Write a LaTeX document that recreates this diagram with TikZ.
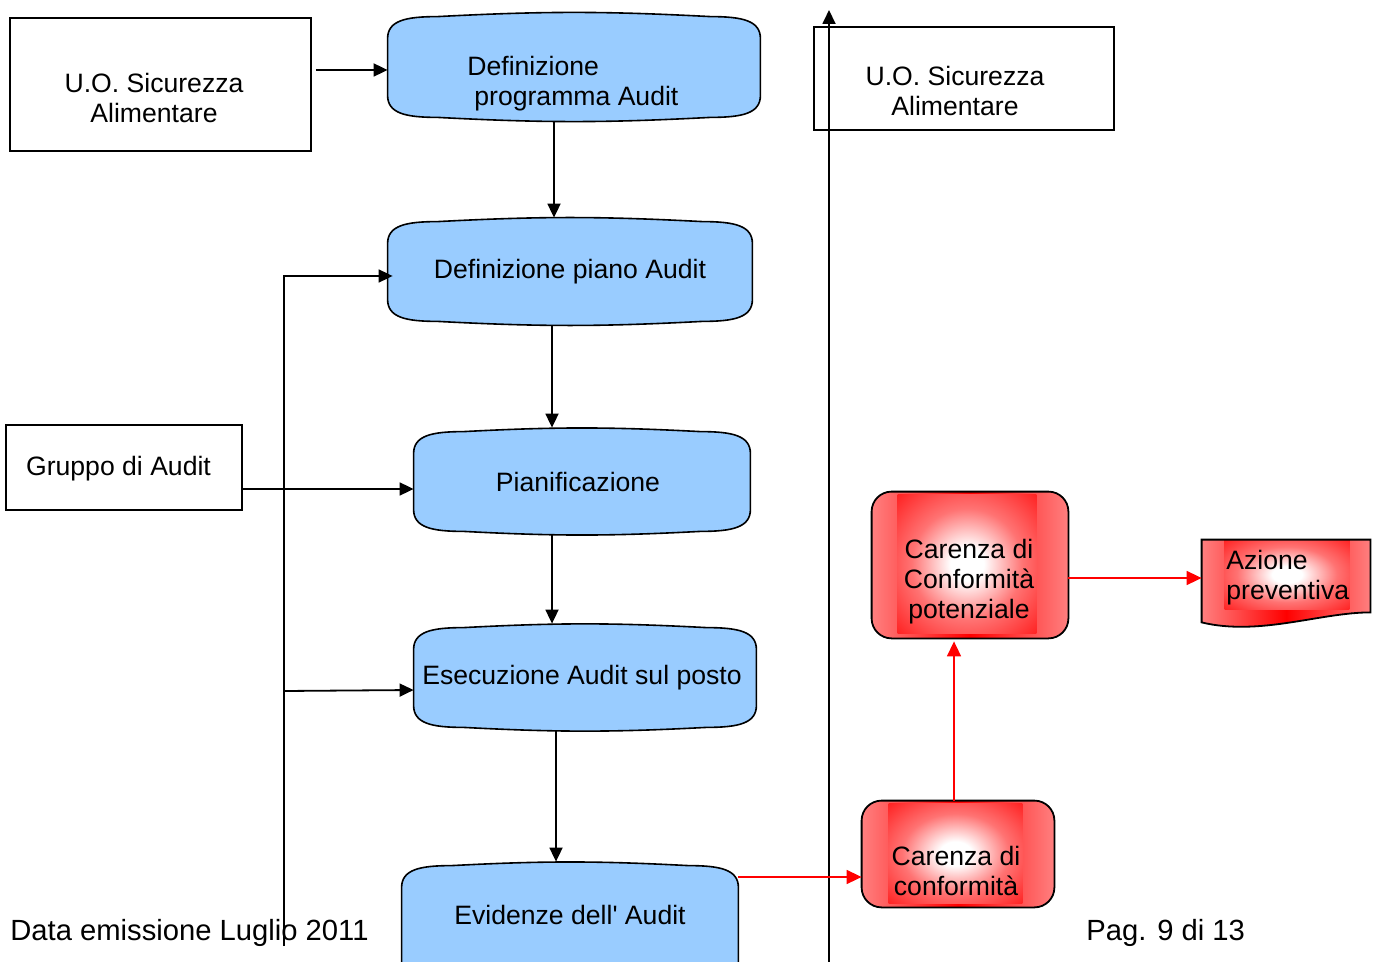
\documentclass[tikz,border=0pt]{standalone}
\usepackage{fontspec}
\setmainfont{Liberation Sans}
\usetikzlibrary{arrows.meta,backgrounds,calc}
\definecolor{boxblue}{HTML}{99CCFF}
\newcommand{\bodyfont}{\fontsize{13.3pt}{15pt}\selectfont}
\newcommand{\footfont}{\fontsize{14.6pt}{17pt}\selectfont}
\pgfdeclareradialshading{redglow}{\pgfpoint{0bp}{0bp}}{color(0bp)=(white); color(6bp)=(white); color(20bp)=(red!55!white); color(42bp)=(red); color(50bp)=(red)}
\begin{document}
\begin{tikzpicture}[x=0.5pt,y=-0.5pt,
  txt/.style={inner sep=0, align=center, font=\bodyfont},
  shp/.style={rectangle, inner sep=0, align=center, font=\bodyfont},
  plainbox/.style={shp, draw=black, line width=0.8pt},
  bluefill/.style={draw=black, line width=0.8pt, fill=boxblue},
  redouter/.style={left color=red!50, right color=red!50, middle color=red},
  redinner/.style={shading=redglow},
  arr/.style={line width=0.9pt, -{Triangle[length=7pt,width=6.5pt]}},
  rarr/.style={draw=red, line width=0.8pt, -{Triangle[length=7.5pt,width=7pt]}, red},
]
\useasboundingbox (0,0) rectangle (1380,962);
\clip (0,0) rectangle (1380,962);

% ---- plain boxes
\node[plainbox, minimum width=150.5pt, minimum height=66.5pt] (uo1) at (160.5,84.5) {};
\node[txt] (uo1t) at (154,98) {U.O. Sicurezza\\Alimentare};
\node[plainbox, minimum width=118pt, minimum height=42.5pt] (gruppo) at (124,467.5) {};
\node[txt] (gruppot) at (118.5,469) {Gruppo di Audit};
\node[plainbox, minimum width=150pt, minimum height=51.5pt] (uo2) at (964,78.5) {};
\node[txt] (uo2t) at (955,91) {U.O. Sicurezza\\Alimentare};

% ---- blue process boxes
\node[shp, minimum width=186pt, minimum height=54pt] (b1) at (574,67) {};
\node[txt, align=left, anchor=west] (b1t) at (467,84) {Definizione\\\hspace*{3.5pt}programma Audit};
\node[shp, minimum width=182pt, minimum height=53.5pt] (b2) at (570,271.5) {Definizione piano Audit};
\node[shp, minimum width=168pt, minimum height=53.5pt] (b3) at (582,481.5) {\hspace*{-4pt}Pianificazione};
\node[shp, minimum width=171pt, minimum height=53.5pt] (b4) at (585,677.5) {\hspace*{-3pt}Esecuzione Audit sul posto};
\node[shp, minimum width=168pt, minimum height=53pt] (b5) at (570,915) {Evidenze dell\textquotesingle{} Audit};

% ---- red boxes
\node[shp, minimum width=98pt, minimum height=73pt] (red1) at (970,565) {};
\node[txt] (red1t) at (969,582) {Carenza di\\Conformit\`a\\potenziale};
\node[shp, minimum width=96pt, minimum height=53pt] (red2) at (958,854) {};
\node[txt] (red2t) at (956,871) {Carenza di\\conformit\`a};
\node[shp, minimum width=84pt, minimum height=44pt] (az) at (1286,584) {};
\node[txt, align=left, anchor=west] (azt) at (1226,578) {Azione\\preventiva};

% ---- footer
\node[anchor=west, inner sep=0, font=\footfont] (date) at (10,933) {Data emissione Luglio 2011};
\node[anchor=west, inner sep=0, font=\footfont] (page) at (1086,933) {Pag. 9 di 13};

% ---- shapes on background
\begin{scope}[on background layer]
\foreach \n in {b1,b2,b3,b4}{
  \draw[bluefill] ([shift={(0,26)}]\n.north west)
    .. controls ([shift={(0,8)}]\n.north west) and ([shift={(18,4)}]\n.north west) .. ([shift={(50,4)}]\n.north west)
    to[bend left=3] ([shift={(-50,4)}]\n.north east)
    .. controls ([shift={(-18,4)}]\n.north east) and ([shift={(0,8)}]\n.north east) .. ([shift={(0,26)}]\n.north east)
    -- ([shift={(0,-26)}]\n.south east)
    .. controls ([shift={(0,-8)}]\n.south east) and ([shift={(-18,-4)}]\n.south east) .. ([shift={(-50,-4)}]\n.south east)
    to[bend left=3] ([shift={(50,-4)}]\n.south west)
    .. controls ([shift={(18,-4)}]\n.south west) and ([shift={(0,-8)}]\n.south west) .. ([shift={(0,-26)}]\n.south west)
    -- cycle;
}
\draw[bluefill] ([shift={(0,50)}]b5.south west) -- ([shift={(0,26)}]b5.north west)
    .. controls ([shift={(0,8)}]b5.north west) and ([shift={(18,4)}]b5.north west) .. ([shift={(50,4)}]b5.north west)
    to[bend left=3] ([shift={(-50,4)}]b5.north east)
    .. controls ([shift={(-18,4)}]b5.north east) and ([shift={(0,8)}]b5.north east) .. ([shift={(0,26)}]b5.north east)
    -- ([shift={(0,50)}]b5.south east);

\foreach \n in {red1,red2}{
  \fill[redouter, rounded corners=10pt] (\n.north west) rectangle (\n.south east);
}
\shade[redinner] ([shift={(26,3)}]red1.north west) rectangle ([shift={(-32,-5)}]red1.south east);
\shade[redinner] ([shift={(27,3)}]red2.north west) rectangle ([shift={(-32,-4)}]red2.south east);
\foreach \n in {red1,red2}{
  \draw[line width=0.9pt, rounded corners=10pt] (\n.north west) rectangle (\n.south east);
}
\fill[redouter] (az.north west) -- (az.north east) -- ([shift={(0,-16)}]az.south east)
   .. controls ([shift={(-50,-16)}]az.south east) and ([shift={(58,8)}]az.south west) .. ([shift={(0,-6)}]az.south west) -- cycle;
\shade[redinner] ([shift={(23,0)}]az.north west) rectangle ([shift={(-21,-19)}]az.south east);
\draw[line width=0.9pt] (az.north west) -- (az.north east) -- ([shift={(0,-16)}]az.south east)
   .. controls ([shift={(-50,-16)}]az.south east) and ([shift={(58,8)}]az.south west) .. ([shift={(0,-6)}]az.south west) -- cycle;
\end{scope}

% ---- connectors
\coordinate (fb) at (284,946);
\coordinate (axb) at (829,962);
\coordinate (axt) at (829,10);
\draw[arr] ([shift={(4,-14.5)}]uo1.east) -- (b1.west |- 0,70);
\draw[arr] (554,0 |- b1.south) -- (554,0 |- b2.north);
\draw[arr] (552,0 |- b2.south) -- (552,0 |- b3.north);
\draw[arr] (552,0 |- b3.south) -- (552,0 |- b4.north);
\draw[arr] (556,0 |- b4.south) -- (556,0 |- b5.north);
\draw[arr] (gruppo.east |- 0,489) -- (b3.west |- 0,489);
\draw[arr] (fb) |- ([xshift=2.5pt]b2.west |- 0,276);
\draw[arr] (fb |- 0,691) -- (b4.west |- 0,690);
\draw[arr] (axb) -- (axt);
\draw[rarr] (b5.east |- 0,877) -- (red2.west |- 0,877);
\draw[rarr, shorten >=1.5pt] (954,0 |- red2.north) -- (954,0 |- red1.south);
\draw[rarr] (red1.east |- 0,578) -- (az.west |- 0,578);
\end{tikzpicture}
\end{document}
